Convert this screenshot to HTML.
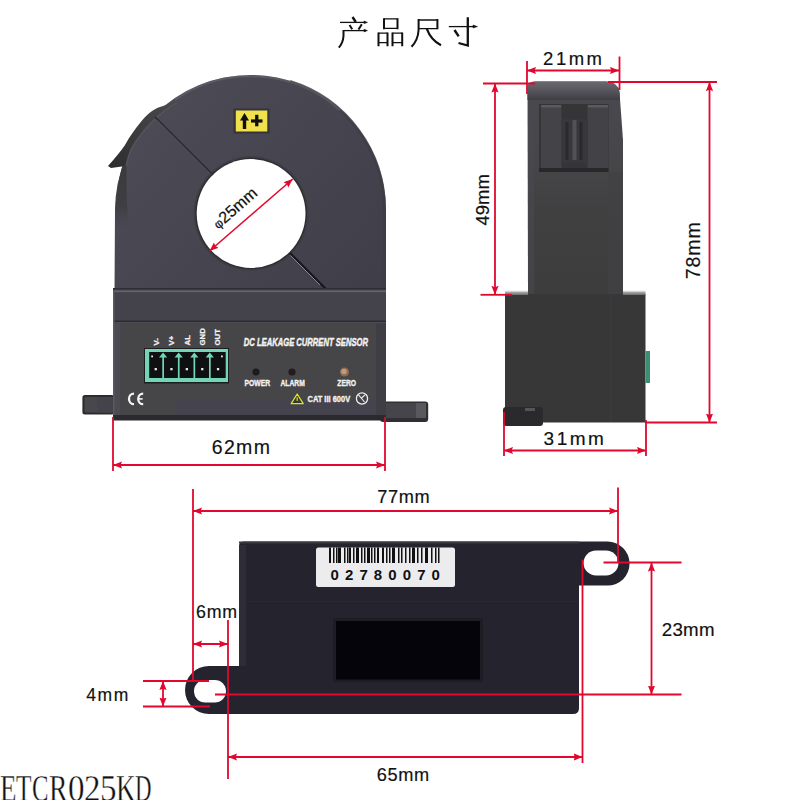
<!DOCTYPE html>
<html><head><meta charset="utf-8">
<style>
html,body{margin:0;padding:0;background:#fff;width:800px;height:800px;overflow:hidden}
svg{display:block}
.t{font-family:"Liberation Sans",sans-serif;fill:#111}
.w{font-family:"Liberation Sans",sans-serif;fill:#f2f2f2;font-weight:bold}
</style></head>
<body>
<svg width="800" height="800" viewBox="0 0 800 800">
<defs>
<marker id="ar" viewBox="0 0 10 8" refX="10" refY="4" markerWidth="9" markerHeight="8" markerUnits="userSpaceOnUse" orient="auto-start-reverse">
<path d="M0,0 L10,4 L0,8 L1.5,4 Z" fill="#e0082e"/>
</marker>
<linearGradient id="clipg" x1="0" y1="1" x2="1" y2="0">
<stop offset="0" stop-color="#2c2c2e"/><stop offset="0.5" stop-color="#3d3d3f"/><stop offset="1" stop-color="#4a4a4d"/>
</linearGradient>
<linearGradient id="topg" x1="0" y1="0" x2="0" y2="1">
<stop offset="0" stop-color="#6a6970"/><stop offset="0.45" stop-color="#58575e"/><stop offset="1" stop-color="#3f3e44"/>
</linearGradient>
<linearGradient id="colg" x1="0" y1="0" x2="0" y2="1">
<stop offset="0" stop-color="#4a494f"/><stop offset="0.4" stop-color="#464548"/><stop offset="0.6" stop-color="#404041"/><stop offset="1" stop-color="#3d3d3e"/>
</linearGradient>
<linearGradient id="shg" x1="0" y1="0" x2="0" y2="1">
<stop offset="0" stop-color="#ffffff" stop-opacity="0"/><stop offset="0.5" stop-color="#a8a8aa"/><stop offset="1" stop-color="#6a6a6c"/>
</linearGradient>
<linearGradient id="lsh" x1="0" y1="0" x2="0" y2="1">
<stop offset="0" stop-color="#3a3a3c"/><stop offset="0.6" stop-color="#3f3f43"/><stop offset="1" stop-color="#4a4853" stop-opacity="0"/>
</linearGradient>
<linearGradient id="ringg" gradientUnits="userSpaceOnUse" x1="140" y1="90" x2="370" y2="290">
<stop offset="0" stop-color="#4d4b56"/><stop offset="1" stop-color="#403e49"/>
</linearGradient>
</defs>
<rect width="800" height="800" fill="#fff"/>

<!-- ===== TITLE 产品尺寸 ===== -->
<g fill="none" stroke="#111" stroke-linecap="butt">
  <!-- 产 -->
  <path d="M352.5,17 L355.8,22" stroke-width="2.4"/>
  <path d="M340,22.4 L366,22.4" stroke-width="1.3"/>
  <path d="M364,21 L367.5,22.4 L364,23.6 Z" fill="#111" stroke-width="0.5"/>
  <path d="M349.5,25 L352.2,29.2" stroke-width="2"/>
  <path d="M361.8,24.3 L358.5,29.5" stroke-width="2"/>
  <path d="M343.5,30.6 L366,30.6" stroke-width="1.3"/>
  <path d="M364,29.2 L367.5,30.6 L364,31.9 Z" fill="#111" stroke-width="0.5"/>
  <path d="M343.5,30 L343.5,36 Q343,43 338.8,47.6" stroke-width="2"/>
  <!-- 品 -->
  <path d="M384,18.2 L384,29.3 M397.5,18.2 L397.5,29.3 M378.5,32.5 L378.5,46.2 M387.5,32.5 L387.5,46.2 M392.5,32.5 L392.5,46.2 M402.2,32.5 L402.2,46.2" stroke-width="2"/>
  <path d="M384,18.8 L397.5,18.8 M384,28.3 L397.5,28.3 M378.5,33.2 L387.5,33.2 M378.5,42.7 L387.5,42.7 M392.5,33.2 L402.2,33.2 M392.5,42.7 L402.2,42.7" stroke-width="1.3"/>
  <!-- 尺 -->
  <path d="M418.6,19 L418.6,30 Q418,40 411.5,46.8" stroke-width="2"/>
  <path d="M418.6,20 L437.4,20 M418.6,28.6 L437.4,28.6" stroke-width="1.3"/>
  <path d="M437.4,19 L437.4,29.2" stroke-width="2"/>
  <path d="M426.8,28.8 Q431,40 441,45.2" stroke-width="2.2"/>
  <!-- 寸 -->
  <path d="M448.8,26.6 L475,26.6" stroke-width="1.3"/>
  <path d="M473,25 L477.5,26.6 L473,28 Z" fill="#111" stroke-width="0.5"/>
  <path d="M467.8,17.2 L467.8,45.5 L458.5,43" stroke-width="2.3"/>
  <path d="M454.5,30 L458.7,36.3" stroke-width="2.4"/>
</g>

<!-- ===== TOP-LEFT DEVICE (front) ===== -->
<g id="front">
  <!-- ring -->
  <path d="M114.5,292 L115,210.5 A135.5,135.5 0 0 1 386,210.5 L386,292 Z" fill="url(#ringg)"/>
  <path d="M122,167 C126,147 133,134 145,123 C152,115 162,110 177,102.5 L200,100 L200,180 L117,190 Z" fill="url(#ringg)"/>
  <path d="M290,81.5 A134,134 0 0 1 384.5,210.5 L384.5,289" fill="none" stroke="#3d3c44" stroke-width="3" opacity="0.8"/>
  <path d="M122.3,167 Q116.5,186 115.2,210 L115.2,234 L129,234 C127,205 126,185 126.5,166 Z" fill="url(#lsh)"/>
  <path d="M175,99.55 A134.2,134.2 0 0 1 340,110.5" fill="none" stroke="#6e6d74" stroke-width="2" opacity="0.5"/>
  <!-- clip tab -->
  <path d="M108,166 C115,158 121,151 125,145 C130,136 135,129 140,123 C144,118 147,115 150,112.5 C154,109.5 157,108 160,107 C164,105.5 168,104.5 177,102 C170,106 165,109 161,112.5 C157,116 154,119 151,122 C147,126 143,130 139,136 C135,141 131,147 129,153 C127,158 126,162 125.5,166 L111,168 Z" fill="url(#clipg)"/>
  <path d="M126.5,166 C128,155 133,144 140,136 C146,128 152,121 162,113 C167,109 171,106 177,103" stroke="#5e5d66" stroke-width="1.2" fill="none" opacity="0.6"/>
  <!-- hole -->
  <circle cx="251.1" cy="213.5" r="57.5" fill="#3f3e45"/>
  <circle cx="251.1" cy="213.5" r="55.8" fill="#2e2d33"/>
  <circle cx="251.1" cy="213.5" r="54.4" fill="#fff"/>
  <!-- split line -->
  <line x1="155" y1="117" x2="213" y2="175" stroke="#2a292f" stroke-width="1.7"/>
  <line x1="156" y1="119.5" x2="211" y2="174.5" stroke="#6a6971" stroke-width="0.8" opacity="0.6"/>
  <line x1="290" y1="253" x2="326" y2="289" stroke="#18171b" stroke-width="2.2"/>
  <line x1="290.5" y1="255.5" x2="320" y2="285" stroke="#9a99a0" stroke-width="0.8"/>
  <!-- phi 25mm -->
  <line x1="209.5" y1="251" x2="292.75" y2="179" stroke="#e3082e" stroke-width="1.5" marker-start="url(#ar)" marker-end="url(#ar)"/>
  <text class="t" transform="translate(234.8,208) rotate(-41)" text-anchor="middle" font-size="16.2" stroke="#111" stroke-width="0.2" dy="5.5"><tspan font-size="12.5">&#966;</tspan>25mm</text>
  <!-- yellow sticker -->
  <rect x="233.5" y="108.5" width="36" height="25" fill="#35343a"/>
  <rect x="235.8" y="110.5" width="31.5" height="21" fill="#f1e14c"/>
  <path d="M240,120.5 L244.5,113 L249,120.5 L246.2,120.5 L246.2,129 L242.8,129 L242.8,120.5 Z" fill="#111"/>
  <rect x="251" y="119.4" width="11.5" height="3.2" fill="#111"/>
  <rect x="255.1" y="114.8" width="3.3" height="11.5" fill="#111"/>

  <!-- ears -->
  <rect x="82.4" y="395" width="32" height="19.5" rx="2.5" fill="#2c2c2e"/>
  <rect x="84.5" y="397" width="29" height="15.5" rx="1" fill="#48474c"/>
  <rect x="97" y="397" width="17" height="15.5" fill="#44434c"/>
  <rect x="380" y="401.5" width="48.2" height="20.5" rx="3" fill="#2f2e33"/>
  <rect x="382" y="403" width="44" height="15" rx="1.5" fill="#46454c"/>
  <rect x="416" y="403" width="10" height="15" fill="#59585c"/>
  <!-- body -->
  <rect x="113" y="289" width="273" height="131" fill="#44434c"/>
  <rect x="113" y="288" width="273" height="1.5" fill="#2f2e34"/>
  <rect x="113" y="290.5" width="273" height="1.6" fill="#66656c"/>
  <rect x="113" y="320.5" width="273" height="1.8" fill="#2c2b30"/>
  <rect x="113" y="322.3" width="273" height="1" fill="#57565c"/>
  <!-- face panel -->
  <rect x="120" y="323" width="257" height="93" fill="#464547"/>
  <rect x="113" y="323" width="7" height="93" fill="#4c4b54"/>
  <rect x="376" y="323" width="10" height="93" fill="#3f3e45"/>
  <rect x="175" y="400" width="201" height="15" fill="#45444e"/>
  <rect x="113" y="415" width="273" height="5.5" fill="#2a292e"/>
  <rect x="113" y="291" width="1.5" height="124" fill="#5a5961"/>

  <!-- terminal block -->
  <rect x="144" y="348" width="85" height="35.5" fill="#1e1e20"/>
  <rect x="145" y="349" width="83" height="33" fill="#72d6b6"/>
  <rect x="149.2" y="352" width="76.5" height="26" fill="#0e1011"/>
  <g fill="#72d6b6">
    <rect x="162.3" y="354" width="1.7" height="24"/>
    <rect x="177.9" y="354" width="1.7" height="24"/>
    <rect x="193.5" y="354" width="1.7" height="24"/>
    <rect x="209" y="354" width="1.7" height="24"/>
    <path d="M159,357.5 L163.1,352.6 L167.2,357.5 Z M174.6,357.5 L178.7,352.6 L182.8,357.5 Z M190.2,357.5 L194.3,352.6 L198.4,357.5 Z M205.7,357.5 L209.8,352.6 L213.9,357.5 Z"/>
  </g>
  <g fill="#e8e8e8">
    <rect x="154.6" y="368" width="2.3" height="2.3"/>
    <rect x="170.3" y="368" width="2.3" height="2.3"/>
    <rect x="185.7" y="368" width="2.3" height="2.3"/>
    <rect x="201.1" y="368" width="2.3" height="2.3"/>
    <rect x="216.9" y="368" width="2.3" height="2.3"/>
    <rect x="151.2" y="355.5" width="1.8" height="1.8"/>
    <rect x="221" y="355.5" width="1.8" height="1.8"/>
  </g>
  <!-- rotated labels -->
  <g class="w" font-size="7.8" stroke="#f2f2f2" stroke-width="0.25">
    <text transform="translate(158.8,345.5) rotate(-90)">V-</text>
    <text transform="translate(174.2,345.5) rotate(-90)">V+</text>
    <text transform="translate(189.8,345.5) rotate(-90)">AL</text>
    <text transform="translate(205,345.5) rotate(-90)">GND</text>
    <text transform="translate(220.4,345.5) rotate(-90)">OUT</text>
  </g>
  <!-- CE -->
  <g fill="none" stroke="#f4f4f4" stroke-width="2.3">
    <path d="M134,393.6 A5,5.3 0 0 0 134,404.2"/>
    <path d="M143.2,393.6 A5,5.3 0 0 0 143.2,404.2"/>
    <path d="M137.8,398.9 L142.6,398.9" stroke-width="1.6"/>
  </g>
  <!-- sensor text -->
  <text class="w" font-style="italic" font-size="11.4" stroke="#f4f4f4" stroke-width="0.45" transform="translate(243.8,346) scale(0.67,1)">DC LEAKAGE CURRENT SENSOR</text>
  <!-- LEDs -->
  <circle cx="256" cy="372" r="3.6" fill="#1c1b1f"/>
  <circle cx="292" cy="372" r="3.6" fill="#231c1f"/>
  <circle cx="344.5" cy="372" r="4.6" fill="#8a6a55"/>
  <circle cx="344" cy="371.5" r="2.8" fill="#c09a7c"/>
  <g class="w" font-size="8.2" stroke="#f2f2f2" stroke-width="0.35">
    <text transform="translate(244.5,386) scale(0.83,1)">POWER</text>
    <text transform="translate(280.5,386) scale(0.82,1)">ALARM</text>
    <text transform="translate(337.3,386) scale(0.82,1)">ZERO</text>
  </g>
  <!-- warning -->
  <path d="M297.2,394 L303.2,403.7 L291.2,403.7 Z" fill="#3a3a2a" stroke="#d8e030" stroke-width="1.3" stroke-linejoin="round"/>
  <rect x="296.6" y="397.3" width="1.2" height="3.6" fill="#d8e030"/>
  <text class="w" font-size="8.8" stroke="#f2f2f2" stroke-width="0.35" transform="translate(307.5,401.8) scale(0.85,1)">CAT III 600V</text>
  <circle cx="362" cy="398.5" r="5.6" fill="none" stroke="#f0f0f0" stroke-width="1.3"/>
  <path d="M358.5,394.8 L364.5,402 M361,398.5 L365,394.8" stroke="#f0f0f0" stroke-width="1.1" fill="none"/>
</g>

<!-- ===== SIDE DEVICE ===== -->
<g id="side">
  <!-- upper column -->
  <path d="M528,294 L527.5,88 Q527.5,81.5 535,81.5 L606,81.5 Q618,82 619.5,92 L623,140 L623,294 Z" fill="url(#colg)"/>
  <path d="M527.5,100 L527.5,88 Q527.5,81.5 535,81.5 L606,81.5 Q618,82 619.5,92 L620,100 Z" fill="url(#topg)"/>
  <rect x="528" y="100" width="6" height="194" fill="#4a4950" opacity="0.6"/>
  <rect x="608" y="172" width="15" height="122" fill="#424145" opacity="0.7"/>
  <!-- clip -->
  <rect x="539" y="104" width="69.5" height="67" fill="#353437"/>
  <rect x="541" y="105" width="20.5" height="64" fill="#444347"/>
  <rect x="587.5" y="105" width="20.5" height="64" fill="#434246"/>
  <rect x="561.5" y="119" width="26" height="44" fill="#38373b"/>
  <rect x="565.5" y="122" width="3" height="38" fill="#2a292c"/>
  <rect x="572.5" y="120" width="4" height="40" fill="#525155"/>
  <rect x="579.5" y="122" width="3" height="38" fill="#2a292c"/>
  <rect x="541" y="105" width="20" height="2.5" fill="#5a5a5e"/>
  <rect x="588" y="105" width="20" height="2.5" fill="#5a5a5e"/>
  <rect x="539" y="168" width="69.5" height="4" fill="#28272a"/>
  <!-- lower body -->
  <rect x="505" y="294" width="140.5" height="128.5" fill="#373738"/>
  <rect x="505" y="289.5" width="23" height="5.5" fill="url(#shg)"/>
  <rect x="623" y="289.5" width="22.5" height="5.5" fill="url(#shg)"/>
  <rect x="610" y="294" width="1.5" height="128" fill="#3b3b3d"/>
  <rect x="503" y="407" width="40" height="19" rx="3" fill="#2a2a2c"/>
  <rect x="525" y="408" width="10" height="3" fill="#555557"/>
  <rect x="645.5" y="351" width="4.5" height="32" fill="#3a8f74"/>
</g>

<!-- ===== BOTTOM DEVICE ===== -->
<g id="bottom">
  <path d="M239,546 Q239,541.5 244,541.5 L579,541.5 L579,708 Q579,714 573,714 L239,714 Z" fill="#25242e"/>
  <rect x="239" y="541.5" width="340" height="2" fill="#3a3940"/>
  <rect x="245" y="601" width="334" height="1" fill="#2a2930"/>
  <rect x="239" y="545" width="7" height="121" fill="#2e2d35"/>
  <!-- right ear -->
  <path d="M579,541.5 L607.5,541.5 A22,22 0 0 1 607.5,585.6 L579,585.6 Z" fill="#25242e"/>
  <rect x="583.5" y="550.5" width="35" height="25" rx="12.5" fill="#fff"/>
  <!-- left ear -->
  <path d="M239,666 L209,666 A24,24 0 0 0 209,714 L239,714 Z" fill="#25242e"/>
  <rect x="194" y="680" width="32" height="22.5" rx="11.2" fill="#fff"/>
  <!-- label -->
  <rect x="316" y="547.5" width="139" height="39.5" rx="2.5" fill="#ececef"/>
  <g fill="#111"><rect x="329" y="547.5" width="2.0" height="15.5"/><rect x="333" y="547.5" width="1.5" height="15.5"/><rect x="336" y="547.5" width="1.5" height="15.5"/><rect x="338" y="547.5" width="3.0" height="15.5"/><rect x="344" y="547.5" width="1.5" height="15.5"/><rect x="347" y="547.5" width="1.5" height="15.5"/><rect x="349" y="547.5" width="2.0" height="15.5"/><rect x="353" y="547.5" width="1.5" height="15.5"/><rect x="356" y="547.5" width="3.0" height="15.5"/><rect x="361" y="547.5" width="1.5" height="15.5"/><rect x="364" y="547.5" width="1.5" height="15.5"/><rect x="367" y="547.5" width="3.0" height="15.5"/><rect x="371" y="547.5" width="1.5" height="15.5"/><rect x="374" y="547.5" width="1.5" height="15.5"/><rect x="377" y="547.5" width="2.0" height="15.5"/><rect x="382" y="547.5" width="2.0" height="15.5"/><rect x="386" y="547.5" width="1.5" height="15.5"/><rect x="389" y="547.5" width="1.5" height="15.5"/><rect x="392" y="547.5" width="3.0" height="15.5"/><rect x="398" y="547.5" width="1.5" height="15.5"/><rect x="401" y="547.5" width="1.5" height="15.5"/><rect x="405" y="547.5" width="1.5" height="15.5"/><rect x="409" y="547.5" width="1.5" height="15.5"/><rect x="412" y="547.5" width="3.0" height="15.5"/><rect x="417" y="547.5" width="1.5" height="15.5"/><rect x="421" y="547.5" width="1.5" height="15.5"/><rect x="425" y="547.5" width="3.0" height="15.5"/><rect x="431" y="547.5" width="1.5" height="15.5"/><rect x="435" y="547.5" width="1.5" height="15.5"/><rect x="438" y="547.5" width="1.5" height="15.5"/></g>
  <text x="330.5" y="579.8" font-family="Liberation Sans" font-weight="bold" font-size="15" fill="#111" letter-spacing="6.1">02780070</text>
  <!-- window -->
  <rect x="333" y="618" width="150" height="64" fill="#1e1d24"/>
  <rect x="336" y="621" width="144" height="58.5" fill="#05040b"/>
</g>

<!-- ===== DIMENSIONS ===== -->
<g stroke="#e0082e" stroke-width="1.8" fill="none">
  <!-- 62mm -->
  <line x1="113" y1="417" x2="113" y2="471"/>
  <line x1="385" y1="417" x2="385" y2="471"/>
  <line x1="113" y1="465" x2="385" y2="465" marker-start="url(#ar)" marker-end="url(#ar)"/>
  <!-- 21mm -->
  <line x1="527" y1="61" x2="527" y2="94"/>
  <line x1="619.5" y1="56.5" x2="619.5" y2="90"/>
  <line x1="527" y1="70.5" x2="619" y2="70.5" marker-start="url(#ar)" marker-end="url(#ar)"/>
  <!-- 49mm -->
  <line x1="483" y1="83.5" x2="535" y2="83.5"/>
  <line x1="480.5" y1="294.8" x2="512" y2="294.8"/>
  <line x1="495" y1="83.5" x2="495" y2="294.8" marker-start="url(#ar)" marker-end="url(#ar)"/>
  <!-- 78mm -->
  <line x1="608" y1="82" x2="717" y2="82"/>
  <line x1="645" y1="422.5" x2="717" y2="422.5"/>
  <line x1="709.5" y1="82" x2="709.5" y2="422.5" marker-start="url(#ar)" marker-end="url(#ar)"/>
  <!-- 31mm -->
  <line x1="504" y1="412" x2="504" y2="456"/>
  <line x1="646" y1="420" x2="646" y2="456"/>
  <line x1="504" y1="450.5" x2="646" y2="450.5" marker-start="url(#ar)" marker-end="url(#ar)"/>
  <!-- 77mm -->
  <line x1="193" y1="489" x2="193" y2="682"/>
  <line x1="618" y1="487.5" x2="618" y2="562"/>
  <line x1="193" y1="511" x2="618" y2="511" marker-start="url(#ar)" marker-end="url(#ar)"/>
  <!-- 6mm -->
  <line x1="228" y1="620" x2="228" y2="779"/>
  <line x1="193" y1="644" x2="228" y2="644" marker-start="url(#ar)" marker-end="url(#ar)"/>
  <!-- 4mm -->
  <line x1="143" y1="681" x2="209" y2="681"/>
  <line x1="143" y1="706.5" x2="210" y2="706.5"/>
  <line x1="163" y1="681" x2="163" y2="706.5" marker-start="url(#ar)" marker-end="url(#ar)"/>
  <!-- 23mm -->
  <line x1="603.5" y1="562.5" x2="681.5" y2="562.5"/>
  <line x1="215" y1="694.5" x2="681.5" y2="694.5"/>
  <line x1="651.5" y1="562.5" x2="651.5" y2="694.5" marker-start="url(#ar)" marker-end="url(#ar)"/>
  <!-- 65mm -->
  <line x1="582.5" y1="559.5" x2="582.5" y2="763"/>
  <line x1="228" y1="757" x2="582.5" y2="757" marker-start="url(#ar)" marker-end="url(#ar)"/>
</g>

<!-- dimension text -->
<g class="t" stroke="#111" stroke-width="0.18">
  <text x="241.5" y="454" font-size="19.5" text-anchor="middle" letter-spacing="1.3">62mm</text>
  <text x="573.8" y="64.6" font-size="18.5" text-anchor="middle" letter-spacing="2.5">21mm</text>
  <text x="575" y="444.8" font-size="19" text-anchor="middle" letter-spacing="2.5">31mm</text>
  <text x="403.8" y="502.5" font-size="18.2" text-anchor="middle" letter-spacing="0.6">77mm</text>
  <text x="403.2" y="781" font-size="18.2" text-anchor="middle" letter-spacing="0.6">65mm</text>
  <text x="688.3" y="635.8" font-size="18.7" text-anchor="middle" letter-spacing="0.3">23mm</text>
  <text x="217" y="617.5" font-size="17.8" text-anchor="middle" letter-spacing="0.8">6mm</text>
  <text x="108" y="701.2" font-size="17.5" text-anchor="middle" letter-spacing="1.6">4mm</text>
  <text transform="translate(489,199.75) rotate(-90)" font-size="18.5" text-anchor="middle">49mm</text>
  <text transform="translate(700,250.25) rotate(-90)" font-size="19.5" text-anchor="middle" letter-spacing="1">78mm</text>
</g>

<g font-family="Liberation Serif" font-size="37" fill="#111" stroke="#fff" stroke-width="0.35">
<text x="0.0" y="800.5" textLength="16.5" lengthAdjust="spacingAndGlyphs">E</text>
<text x="16.0" y="800.5" textLength="15.5" lengthAdjust="spacingAndGlyphs">T</text>
<text x="32.0" y="800.5" textLength="16.5" lengthAdjust="spacingAndGlyphs">C</text>
<text x="49.0" y="800.5" textLength="18.5" lengthAdjust="spacingAndGlyphs">R</text>
<text x="68.0" y="800.5" textLength="16.5" lengthAdjust="spacingAndGlyphs">0</text>
<text x="84.0" y="800.5" textLength="16.5" lengthAdjust="spacingAndGlyphs">2</text>
<text x="100.0" y="800.5" textLength="16.5" lengthAdjust="spacingAndGlyphs">5</text>
<text x="116.0" y="800.5" textLength="19.5" lengthAdjust="spacingAndGlyphs">K</text>
<text x="135.0" y="800.5" textLength="16.5" lengthAdjust="spacingAndGlyphs">D</text>
</g>

</svg>
</body></html>
